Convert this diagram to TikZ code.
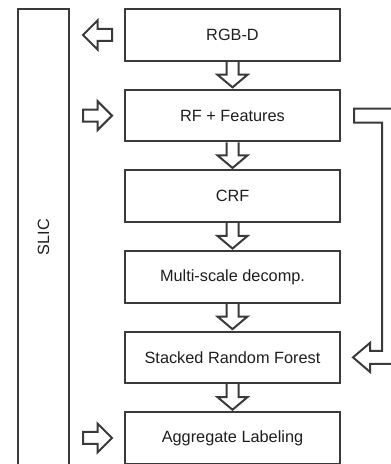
\documentclass[tikz,border=0pt]{standalone}
\usepackage{fontspec}
\setmainfont{Liberation Sans}
\usepackage{graphicx}
\usetikzlibrary{positioning,calc}
\definecolor{linegray}{RGB}{58,58,58}
\definecolor{textgray}{RGB}{30,30,30}

% hollow block arrow from one stage down to the next
\newcommand\flowdown[2]{%
  \draw[hollow] ($(#1.south)+(-6,0)$) -- ($(#1.south)+(-6,-13)$) -- ($(#1.south)+(-15,-13)$)
    -- ($(#2.north)+(0,1.5)$) -- ($(#1.south)+(15,-13)$) -- ($(#1.south)+(6,-13)$) -- ($(#1.south)+(6,0)$);}
% hollow block arrow from a stage to the column
\newcommand\flowleft[2]{%
  \draw[hollow] ($(#1.west)+(-12,6)$) -- ($(#2.east |- #1.west)+(27.5,6)$) -- ($(#2.east |- #1.west)+(27.5,14.5)$)
    -- ($(#2.east |- #1.west)+(13,0)$) -- ($(#2.east |- #1.west)+(27.5,-14.5)$) -- ($(#2.east |- #1.west)+(27.5,-6)$)
    -- ($(#1.west)+(-12,-6)$) -- cycle;}
% hollow block arrow from the column to a stage
\newcommand\flowright[2]{%
  \draw[hollow] ($(#1.east |- #2.west)+(13,6)$) -- ($(#2.west)+(-26.5,6)$) -- ($(#2.west)+(-26.5,14.5)$)
    -- ($(#2.west)+(-12,0)$) -- ($(#2.west)+(-26.5,-14.5)$) -- ($(#2.west)+(-26.5,-6)$)
    -- ($(#1.east |- #2.west)+(13,-6)$) -- cycle;}

\begin{document}
\begin{tikzpicture}[x=1pt, y=1pt, node distance=27.1pt]
 \tikzset{stage/.style={draw=linegray, line width=2pt, text=textgray, inner sep=0pt,
   minimum width=215pt, minimum height=51.5pt, font=\fontsize{16.3}{19.6}\selectfont}}
 \tikzset{column/.style={stage, minimum width=51pt, minimum height=456pt}}
 \tikzset{hollow/.style={draw=linegray, line width=2pt, line join=miter}}
  \useasboundingbox (0,0) rectangle (391,464);
  \clip (0,0) rectangle (391,464);
  \node[stage] (rgbd) at (232.5,429) {RGB-D};
  \node[stage, below=of rgbd] (rf) {RF + Features};
  \node[stage, below=of rf] (crf) {CRF};
  \node[stage, below=of crf] (msd) {Multi-scale decomp.};
  \node[stage, below=of msd] (srf) {Stacked Random Forest};
  \node[stage, below=of srf] (agg) {Aggregate Labeling};
  \node[column] (slic) at (43.5,227) {\rotatebox{90}{SLIC}};
  \flowdown{rgbd}{rf}
  \flowdown{rf}{crf}
  \flowdown{crf}{msd}
  \flowdown{msd}{srf}
  \flowdown{srf}{agg}
  \flowleft{rgbd}{slic}
  \flowright{slic}{rf}
  \flowright{slic}{agg}
  % feedback bar
  \draw[hollow] ($(rf.east)+(13,7)$) -- ($(rf.east)+(55,7)$) -- ($(srf.east)+(55,-6.5)$)
    -- ($(srf.east)+(29,-6.5)$) -- ($(srf.east)+(29,-14.5)$) -- ($(srf.east)+(12,0)$)
    -- ($(srf.east)+(29,14.5)$) -- ($(srf.east)+(29,6.5)$) -- ($(srf.east)+(41,6.5)$)
    -- ($(rf.east)+(41,-7)$) -- ($(rf.east)+(13,-7)$) -- cycle;
\end{tikzpicture}
\end{document}
